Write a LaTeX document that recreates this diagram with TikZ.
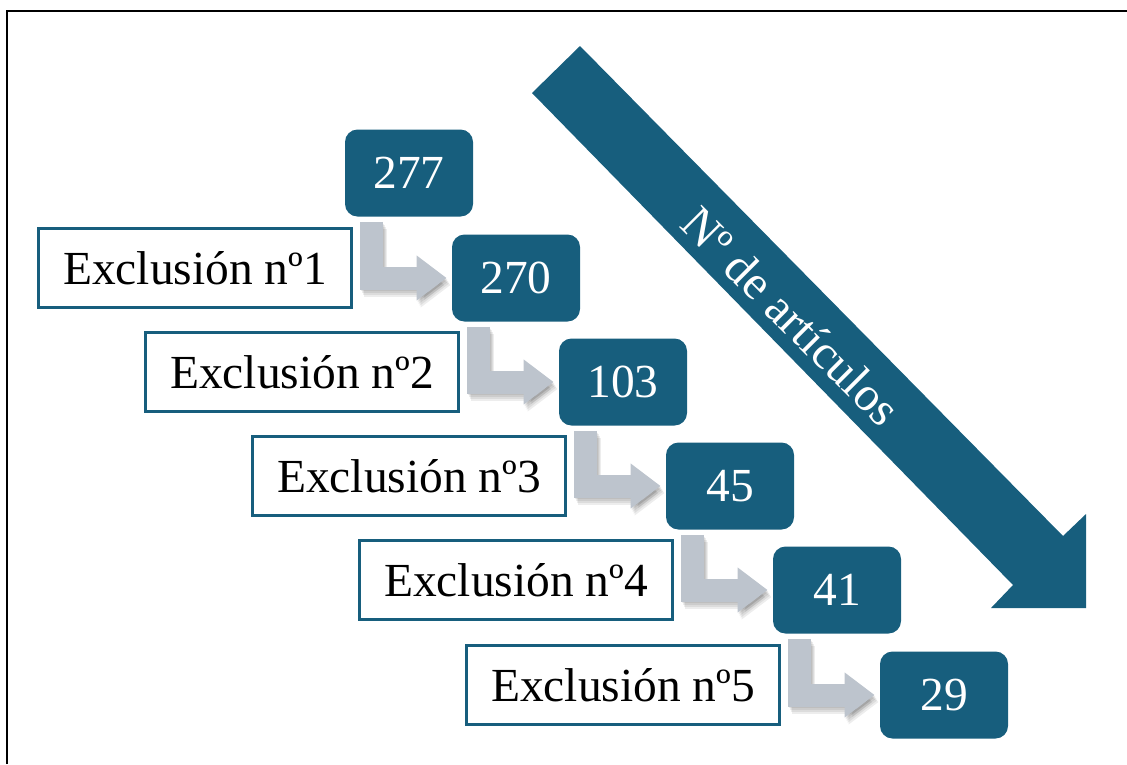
\documentclass[tikz,border=0pt]{standalone}
\usepackage{fontspec}
\setmainfont{Liberation Serif}
\usetikzlibrary{arrows.meta}
\definecolor{tealbox}{RGB}{23,94,125}
\definecolor{stepgray}{RGB}{189,196,205}

\begin{document}
\begin{tikzpicture}[
  x=0.2mm, y=-0.2mm,
  count/.style={fill=tealbox,rounded corners=0.25cm,minimum width=2.56cm,minimum height=1.74cm,inner sep=0,text=white,font=\fontsize{27}{30}\selectfont},
  excl/.style={draw=tealbox,line width=1.6pt,fill=white,minimum width=6.25cm,minimum height=1.58cm,inner sep=0,font=\fontsize{27}{30}\selectfont},
  larrow/.style={draw=stepgray,line width=0.46cm,line join=miter,-{Triangle[length=0.6cm,width=0.86cm]}},
  lshadow/.style={larrow,draw=black,opacity=0.07,transform canvas={xshift=#1*0.02cm,yshift=-#1*0.035cm}}
  ]
  \useasboundingbox (0,0) rectangle (1127,764);

  % frame
  \draw[line width=1.4pt] (7,764) -- (7,11) -- (1127,11);

  % big arrow
  \fill[tealbox] (532,93) -- (580,46) -- (1063,536) -- (1086,514) -- (1086,608) -- (991,608) -- (1013,585) -- cycle;
  \node [rotate=-45,text=white,font=\fontsize{27.5}{30}\selectfont] (articulos) at (791,316) {Nº de artículos};

  % counts
  \node [count] (n277) at (409,173) {277};
  \node [count] (n270) at (516,278) {270};
  \node [count] (n103) at (623,382) {103};
  \node [count] (n45) at (730,486) {45};
  \node [count] (n41) at (837,590) {41};
  \node [count] (n29) at (944,695) {29};

  % exclusions
  \node [excl] (ex1) at (195,268) {Exclusión nº1};
  \node [excl] (ex2) at (302,372) {Exclusión nº2};
  \node [excl] (ex3) at (409,476) {Exclusión nº3};
  \node [excl] (ex4) at (516,580) {Exclusión nº4};
  \node [excl] (ex5) at (623,685) {Exclusión nº5};

  % steps (soft shadow first)
  \foreach \s in {1,2,3,4}
    \draw[lshadow=\s] ([xshift=0.54cm,yshift=-0.1cm]n277.south west) |- ([xshift=-0.1cm]n270.west);
  \draw[larrow] ([xshift=0.54cm,yshift=-0.1cm]n277.south west) |- ([xshift=-0.1cm]n270.west);
  \foreach \s in {1,2,3,4}
    \draw[lshadow=\s] ([xshift=0.54cm,yshift=-0.1cm]n270.south west) |- ([xshift=-0.1cm]n103.west);
  \draw[larrow] ([xshift=0.54cm,yshift=-0.1cm]n270.south west) |- ([xshift=-0.1cm]n103.west);
  \foreach \s in {1,2,3,4}
    \draw[lshadow=\s] ([xshift=0.54cm,yshift=-0.1cm]n103.south west) |- ([xshift=-0.1cm]n45.west);
  \draw[larrow] ([xshift=0.54cm,yshift=-0.1cm]n103.south west) |- ([xshift=-0.1cm]n45.west);
  \foreach \s in {1,2,3,4}
    \draw[lshadow=\s] ([xshift=0.54cm,yshift=-0.1cm]n45.south west) |- ([xshift=-0.1cm]n41.west);
  \draw[larrow] ([xshift=0.54cm,yshift=-0.1cm]n45.south west) |- ([xshift=-0.1cm]n41.west);
  \foreach \s in {1,2,3,4}
    \draw[lshadow=\s] ([xshift=0.54cm,yshift=-0.1cm]n41.south west) |- ([xshift=-0.1cm]n29.west);
  \draw[larrow] ([xshift=0.54cm,yshift=-0.1cm]n41.south west) |- ([xshift=-0.1cm]n29.west);

\end{tikzpicture}
\end{document}
